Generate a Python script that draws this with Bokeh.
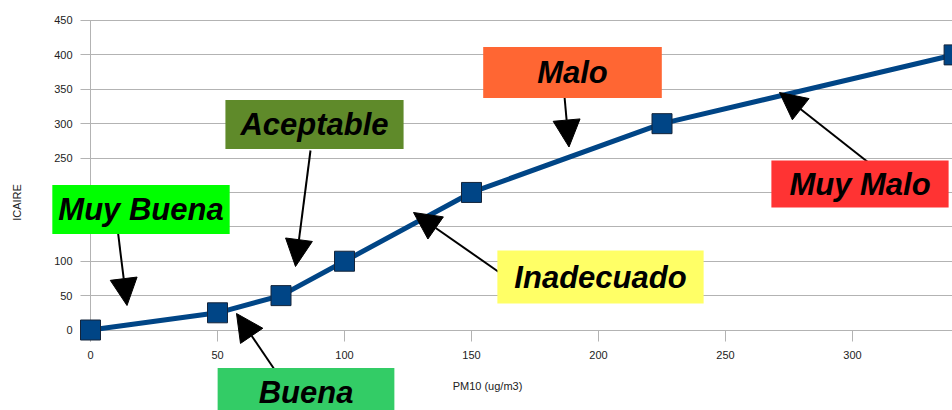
import math
from bokeh.plotting import figure
from bokeh.models import (Label, Arrow, NormalHead, Range1d, FixedTicker,
                          LinearAxis, Grid)
from bokeh.embed import file_html
from bokeh.resources import INLINE

# ---- data ----
pm10 = [0, 50, 75, 100, 150, 225, 340]
icaire = [0, 25, 50, 100, 200, 300, 400]
x_ticks = [0, 50, 100, 150, 200, 250, 300]
y_ticks = [0, 50, 100, 150, 200, 250, 300, 350, 400, 450]
categories = ["Muy Buena", "Buena", "Aceptable", "Inadecuado", "Malo", "Muy Malo"]
cat_colors = ["#00ff00", "#33cc66", "#5f8a2a", "#ffff66", "#ff6633", "#ff3333"]

W, H = 952, 410

# page pixel -> data converters
def dx(px):
    return (px - 90.0) / 2.54

def dy(py):
    return (329.5 - py) / 0.6878

# box centres (px), paddings (l/r, t/b)
box_pos = {
    "Muy Buena": (140.5, 209, 6, 7),
    "Buena": (305.5, 392, 41, 7),
    "Aceptable": (314, 124, 15, 7),
    "Inadecuado": (600, 276.5, 17, 9),
    "Malo": (572, 72, 54, 8),
    "Muy Malo": (859.5, 183.5, 18, 6),
}
# arrow start / tip (px)
arrow_pos = {
    "Muy Buena": (117, 228, 126.5, 305),
    "Buena": (274, 369, 236, 313),
    "Aceptable": (310, 150, 295, 266),
    "Inadecuado": (499, 272, 413, 212),
    "Malo": (564, 96, 568.5, 146.5),
    "Muy Malo": (873, 166, 779, 92),
}

FONT = "Liberation Sans"
GRID = "#b3b3b3"

p = figure(width=W, height=H, output_backend="svg", toolbar_location=None,
           x_range=Range1d(dx(0), dx(W)), y_range=Range1d(dy(H), dy(0)),
           x_axis_location=None, y_axis_location=None,
           min_border_left=0, min_border_right=0, min_border_top=0,
           min_border_bottom=0)
p.outline_line_color = None
p.background_fill_color = "white"
p.border_fill_color = "white"
p.xgrid.visible = False
p.ygrid.visible = False

grid = Grid(dimension=1, ticker=FixedTicker(ticks=y_ticks), grid_line_color=GRID,
            grid_line_width=1)
has_cross = "cross_bounds" in Grid.properties()
if has_cross:
    grid.cross_bounds = (dx(80), dx(W))
    p.add_layout(grid)
else:
    p.segment(x0=[dx(80)] * len(y_ticks), y0=y_ticks, x1=[dx(W)] * len(y_ticks),
              y1=y_ticks, line_color=GRID, line_width=1)

xaxis = LinearAxis(fixed_location=0, ticker=FixedTicker(ticks=x_ticks),
                   bounds=(dx(80), dx(W)), level="underlay",
                   axis_line_color=GRID, major_tick_line_color=GRID,
                   major_tick_in=0, major_tick_out=11, minor_tick_line_color=None,
                   major_label_standoff=10, major_label_text_font=FONT,
                   major_label_text_font_size="11px",
                   major_label_text_color="#222222")
p.add_layout(xaxis, "below")

yaxis = LinearAxis(fixed_location=0, ticker=FixedTicker(ticks=y_ticks),
                   bounds=(dy(341), 450), level="underlay",
                   axis_line_color=GRID, major_tick_line_color=None,
                   major_tick_in=0, major_tick_out=10, minor_tick_line_color=None,
                   major_label_standoff=8, major_label_text_font=FONT,
                   major_label_text_font_size="11px",
                   major_label_text_color="#222222")
p.add_layout(yaxis, "left")

p.line(pm10, icaire, line_color="#004586", line_width=5)
p.scatter(pm10, icaire, marker="square", size=20, fill_color="#004586",
          line_color="#14243a", line_width=1)

for name in categories:
    x0, y0, x1, y1 = arrow_pos[name]
    p.add_layout(Arrow(end=NormalHead(size=27, fill_color="black", line_color="black"),
                       x_start=dx(x0), y_start=dy(y0), x_end=dx(x1), y_end=dy(y1),
                       line_color="black", line_width=2))

for name, col in zip(categories, cat_colors):
    cx, cy, ph, pv = box_pos[name]
    p.add_layout(Label(x=dx(cx), y=dy(cy), text=name, text_align="center",
                       text_baseline="middle", text_font=FONT, text_font_size="31px",
                       text_font_style="bold italic", text_color="black",
                       background_fill_color=col,
                       padding=dict(left=ph, right=ph, top=pv, bottom=pv)))

p.add_layout(Label(x=dx(487), y=dy(385), text="PM10 (ug/m3)", text_align="center",
                   text_baseline="middle", text_font=FONT, text_font_size="11px",
                   text_color="#222222"))
p.add_layout(Label(x=dx(16), y=dy(202), text="ICAIRE", text_align="center",
                   text_baseline="middle", text_font=FONT, text_font_size="11px",
                   text_color="#222222", angle=math.pi / 2))

open("out.html", "w").write(file_html(p, INLINE))
